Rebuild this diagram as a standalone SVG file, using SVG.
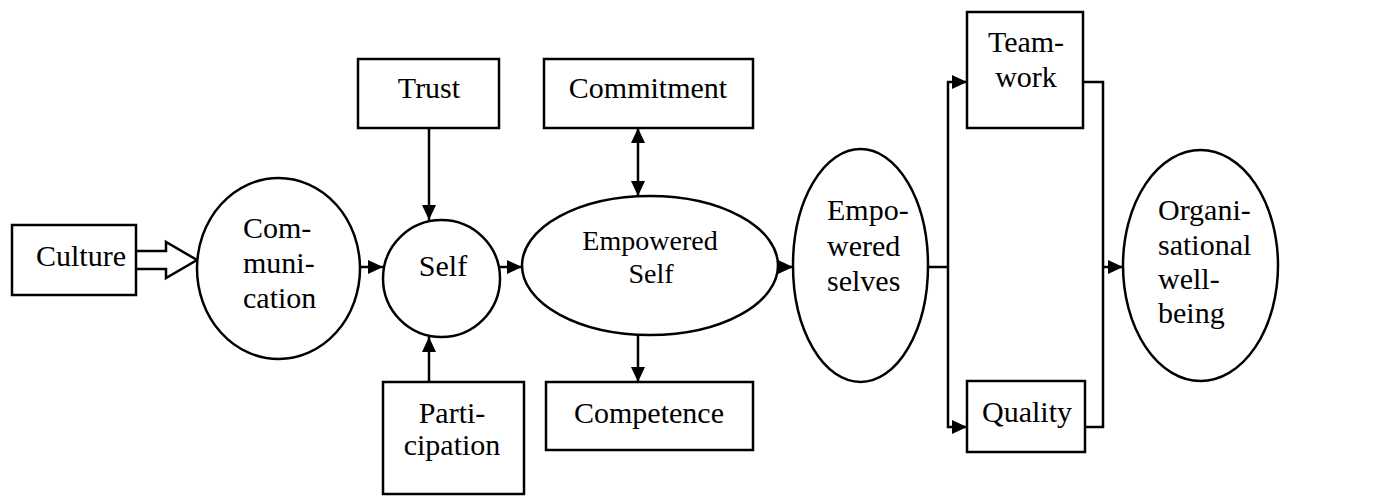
<svg xmlns="http://www.w3.org/2000/svg" width="1386" height="496" viewBox="0 0 1386 496">
<defs>
<style>
.n{fill:#fff;stroke:#000;stroke-width:2.5}
.c{fill:none;stroke:#000;stroke-width:2.5}
.t{font-family:'Liberation Serif','Times New Roman',serif;font-size:30px;fill:#000}
.m{text-anchor:middle}
.s{font-size:28px}
</style>
<marker id="ah" markerUnits="userSpaceOnUse" markerWidth="16" markerHeight="14" refX="15" refY="7" orient="auto-start-reverse">
<path d="M0,0 L15,7 L0,14 Z" fill="#000"/>
</marker>
</defs>
<rect width="1386" height="496" fill="#fff"/>
<g id="connectors">
<path class="n" d="M136,251 H166 V242 L197,260 L166,278 V269 H136"/>
<line class="c" x1="360" y1="267" x2="383" y2="267" marker-end="url(#ah)"/>
<line class="c" x1="429" y1="128" x2="429" y2="220" marker-end="url(#ah)"/>
<line class="c" x1="429" y1="382" x2="429" y2="337" marker-end="url(#ah)"/>
<line class="c" x1="500" y1="267" x2="522" y2="267" marker-end="url(#ah)"/>
<line class="c" x1="638" y1="128" x2="638" y2="196" marker-start="url(#ah)" marker-end="url(#ah)"/>
<line class="c" x1="638" y1="335" x2="638" y2="382" marker-end="url(#ah)"/>
<line class="c" x1="778" y1="267" x2="793" y2="267" marker-end="url(#ah)"/>
<polyline class="c" points="928,267 948,267"/>
<polyline class="c" points="948,267 948,82 967,82" marker-end="url(#ah)"/>
<polyline class="c" points="948,267 948,427 967,427" marker-end="url(#ah)"/>
<polyline class="c" points="1083,82 1103,82 1103,427 1085,427"/>
<line class="c" x1="1103" y1="267" x2="1123" y2="267" marker-end="url(#ah)"/>
</g>
<g id="culture">
<rect class="n" x="12" y="225" width="124" height="70"/>
<text class="t m" x="81" y="266">Culture</text>
</g>
<g id="communication">
<ellipse class="n" cx="278.5" cy="268.5" rx="81.5" ry="90.5"/>
<text class="t" x="243" y="238">Com-</text>
<text class="t" x="243" y="273">muni-</text>
<text class="t" x="243" y="308">cation</text>
</g>
<g id="trust">
<rect class="n" x="358" y="59" width="141" height="69"/>
<text class="t m" x="429" y="98">Trust</text>
</g>
<g id="self">
<ellipse class="n" cx="441.5" cy="278.5" rx="58.5" ry="58.5"/>
<text class="t m" x="443" y="276">Self</text>
</g>
<g id="participation">
<rect class="n" x="383" y="382" width="141" height="112"/>
<text class="t m" x="452" y="423">Parti-</text>
<text class="t m" x="452" y="455">cipation</text>
</g>
<g id="commitment">
<rect class="n" x="544" y="59" width="209" height="69"/>
<text class="t m" x="648" y="98">Commitment</text>
</g>
<g id="empowered-self">
<ellipse class="n" cx="650" cy="265.5" rx="128" ry="69.5"/>
<text class="t m s" x="650" y="250">Empowered</text>
<text class="t m s" x="651" y="283">Self</text>
</g>
<g id="competence">
<rect class="n" x="546" y="382" width="207" height="68"/>
<text class="t m" x="649" y="423">Competence</text>
</g>
<g id="empowered-selves">
<ellipse class="n" cx="860.5" cy="265.5" rx="67.5" ry="116.5"/>
<text class="t" x="827" y="220">Empo-</text>
<text class="t" x="827" y="256">wered</text>
<text class="t" x="827" y="291">selves</text>
</g>
<g id="teamwork">
<rect class="n" x="967" y="12" width="116" height="116"/>
<text class="t m" x="1026" y="52">Team-</text>
<text class="t m" x="1026" y="87">work</text>
</g>
<g id="quality">
<rect class="n" x="967" y="381" width="118" height="71"/>
<text class="t m" x="1027" y="422">Quality</text>
</g>
<g id="organisational-wellbeing">
<ellipse class="n" cx="1200.5" cy="265.5" rx="77.5" ry="115.5"/>
<text class="t" x="1158" y="220">Organi-</text>
<text class="t" x="1158" y="255">sational</text>
<text class="t" x="1158" y="289">well-</text>
<text class="t" x="1158" y="323">being</text>
</g>
</svg>
